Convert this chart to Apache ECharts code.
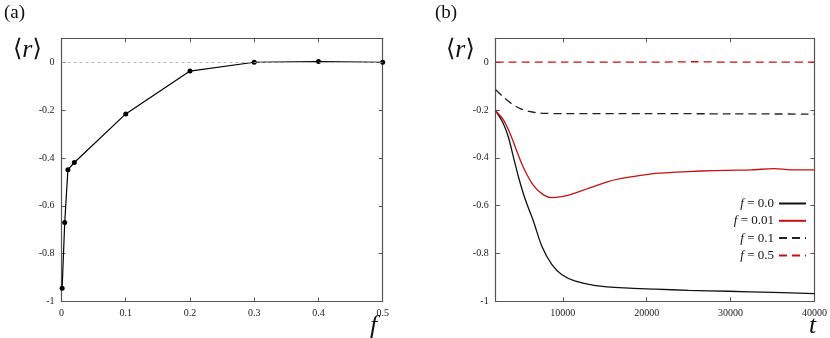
<!DOCTYPE html>
<html>
<head>
<meta charset="utf-8">
<script src="https://cdn.jsdelivr.net/npm/echarts@6/dist/echarts.min.js"></script>
<style>
  html, body { margin: 0; padding: 0; background: #fff; }
  #chart { width: 830px; height: 338px; }
</style>
</head>
<body>
<div id="chart"></div>
<script>
// panel (a): mean r against f
const fValues = [0.001, 0.005, 0.01, 0.02, 0.1, 0.2, 0.3, 0.4, 0.5]
const rMean = [-0.945, -0.67, -0.449, -0.419, -0.216, -0.037, 0.0, 0.003, 0.0]

// panel (b): mean r against t
const tF00 = [2000, 2900, 3500, 4100, 4700, 5300, 5900, 6500, 7500, 8700, 9900, 11500, 13900, 17400, 21000, 25000, 29700, 35000, 40000]
const rF00 = [-0.204, -0.256, -0.312, -0.395, -0.478, -0.55, -0.61, -0.665, -0.77, -0.847, -0.889, -0.916, -0.934, -0.944, -0.949, -0.954, -0.958, -0.963, -0.968]

const tF001 = [2000, 2900, 3700, 4500, 5300, 6500, 7700, 8700, 10800, 13100, 15400, 17700, 20600, 23500, 26500, 29500, 32500, 35200, 37200, 40000]
const rF001 = [-0.204, -0.24, -0.297, -0.37, -0.44, -0.515, -0.555, -0.566, -0.555, -0.527, -0.499, -0.482, -0.467, -0.46, -0.455, -0.452, -0.45, -0.445, -0.45, -0.45]

const tF01 = [2000, 3000, 4000, 5000, 6000, 7000, 8000, 10000, 20000, 30000, 40000]
const rF01 = [-0.115, -0.148, -0.176, -0.195, -0.206, -0.212, -0.214, -0.215, -0.215, -0.216, -0.217]

const tF05 = [2000, 10000, 20000, 26000, 30000, 40000]
const rF05 = [0.0, 0.0, 0.0, 0.002, 0.0, 0.0]

const rTicks = [-1, -0.8, -0.6, -0.4, -0.2, 0]
const fTicks = [0, 0.1, 0.2, 0.3, 0.4, 0.5]
const tTicks = [10000, 20000, 30000, 40000]

const legendNames = ['f = 0.0', 'f = 0.01', 'f = 0.1', 'f = 0.5']

const serif = '"Liberation Serif", "DejaVu Serif", serif'
const frameColor = '#555'
const red = '#c81010'

const zip = (xs, ys) => xs.map((x, i) => [x, ys[i]])

function frameAxis(pos, gridIndex, min, max, ticks, showLabels, fmt) {
  return {
    type: 'value',
    gridIndex,
    position: pos,
    min,
    max,
    axisLine: { show: true, onZero: false, lineStyle: { color: frameColor, width: 1.2 } },
    axisTick: { show: true, inside: true, length: 4, customValues: ticks, lineStyle: { color: frameColor } },
    axisLabel: {
      show: showLabels,
      customValues: ticks,
      fontFamily: serif,
      fontSize: 10,
      color: '#222',
      margin: 7,
      formatter: fmt
    },
    splitLine: { show: false }
  }
}

const plainFmt = v => String(v)

const chart = echarts.init(document.getElementById('chart'))

chart.setOption({
  animation: false,
  title: [
    { text: '(a)', left: -1, top: -1, textStyle: { fontFamily: serif, fontSize: 19, fontWeight: 'normal', color: '#111' } },
    { text: '(b)', left: 430, top: -1, textStyle: { fontFamily: serif, fontSize: 19, fontWeight: 'normal', color: '#111' } }
  ],
  grid: [
    { left: 61.5, right: 447.3, top: 38.3, bottom: 36.5 },
    { left: 495.7, right: 13.3, top: 38.3, bottom: 36.7 }
  ],
  xAxis: [
    frameAxis('bottom', 0, 0, 0.5, fTicks, true, plainFmt),
    frameAxis('top', 0, 0, 0.5, fTicks, false, plainFmt),
    frameAxis('bottom', 1, 2000, 40000, tTicks, true, plainFmt),
    frameAxis('top', 1, 2000, 40000, tTicks, false, plainFmt)
  ],
  yAxis: [
    frameAxis('left', 0, -1, 0.1, rTicks, true, plainFmt),
    frameAxis('right', 0, -1, 0.1, rTicks, false, plainFmt),
    frameAxis('left', 1, -1, 0.1, rTicks, true, plainFmt),
    frameAxis('right', 1, -1, 0.1, rTicks, false, plainFmt)
  ],
  legend: {
    data: legendNames,
    orient: 'vertical',
    right: 23,
    top: 197,
    padding: 0,
    align: 'right',
    itemWidth: 27,
    itemHeight: 12,
    itemGap: 4.3,
    itemStyle: { opacity: 0 },
    formatter: name => '{i|f}{n|' + name.slice(1) + '}',
    textStyle: {
      width: 44,
      align: 'left',
      fontFamily: serif,
      fontSize: 13,
      color: '#111',
      rich: {
        i: { fontFamily: serif, fontStyle: 'italic', fontSize: 13, color: '#111' },
        n: { fontFamily: serif, fontSize: 13, color: '#111' }
      }
    }
  },
  graphic: [
    {
      type: 'text', left: 13, top: 37,
      style: { text: '⟨{i|r}⟩', font: '24px "DejaVu Serif", serif', fill: '#111',
        rich: { i: { fontFamily: serif, fontStyle: 'italic', fontSize: 26, fill: '#111' } } }
    },
    {
      type: 'text', left: 446, top: 37,
      style: { text: '⟨{i|r}⟩', font: '24px "DejaVu Serif", serif', fill: '#111',
        rich: { i: { fontFamily: serif, fontStyle: 'italic', fontSize: 26, fill: '#111' } } }
    },
    {
      type: 'text', left: 370, top: 313,
      style: { text: 'f', font: 'italic 26px ' + serif, fill: '#111' }
    },
    {
      type: 'text', left: 809, top: 313,
      style: { text: 't', font: 'italic 26px ' + serif, fill: '#111' }
    }
  ],
  series: [
    {
      type: 'line',
      xAxisIndex: 0,
      yAxisIndex: 0,
      data: zip(fValues, rMean),
      symbol: 'circle',
      symbolSize: 5,
      itemStyle: { color: '#000' },
      lineStyle: { color: '#000', width: 1.2 },
      markLine: {
        silent: true,
        symbol: 'none',
        label: { show: false },
        lineStyle: { color: '#aaa', type: [3, 3], width: 0.8 },
        data: [{ yAxis: 0 }]
      },
      z: 3
    },
    {
      name: legendNames[0],
      type: 'line',
      xAxisIndex: 2,
      yAxisIndex: 2,
      data: zip(tF00, rF00),
      smooth: 0.3,
      symbol: 'none',
      itemStyle: { color: '#111' },
      lineStyle: { color: '#111', width: 1.3 }
    },
    {
      name: legendNames[1],
      type: 'line',
      xAxisIndex: 2,
      yAxisIndex: 2,
      data: zip(tF001, rF001),
      smooth: 0.3,
      symbol: 'none',
      itemStyle: { color: red },
      lineStyle: { color: red, width: 1.3 }
    },
    {
      name: legendNames[2],
      type: 'line',
      xAxisIndex: 2,
      yAxisIndex: 2,
      data: zip(tF01, rF01),
      smooth: 0.3,
      symbol: 'none',
      itemStyle: { color: '#222' },
      lineStyle: { color: '#222', width: 1.3, type: [8, 5] }
    },
    {
      name: legendNames[3],
      type: 'line',
      xAxisIndex: 2,
      yAxisIndex: 2,
      data: zip(tF05, rF05),
      smooth: 0.3,
      symbol: 'none',
      itemStyle: { color: red },
      lineStyle: { color: red, width: 1.3, type: [8, 5] }
    }
  ]
})
</script>
</body>
</html>
